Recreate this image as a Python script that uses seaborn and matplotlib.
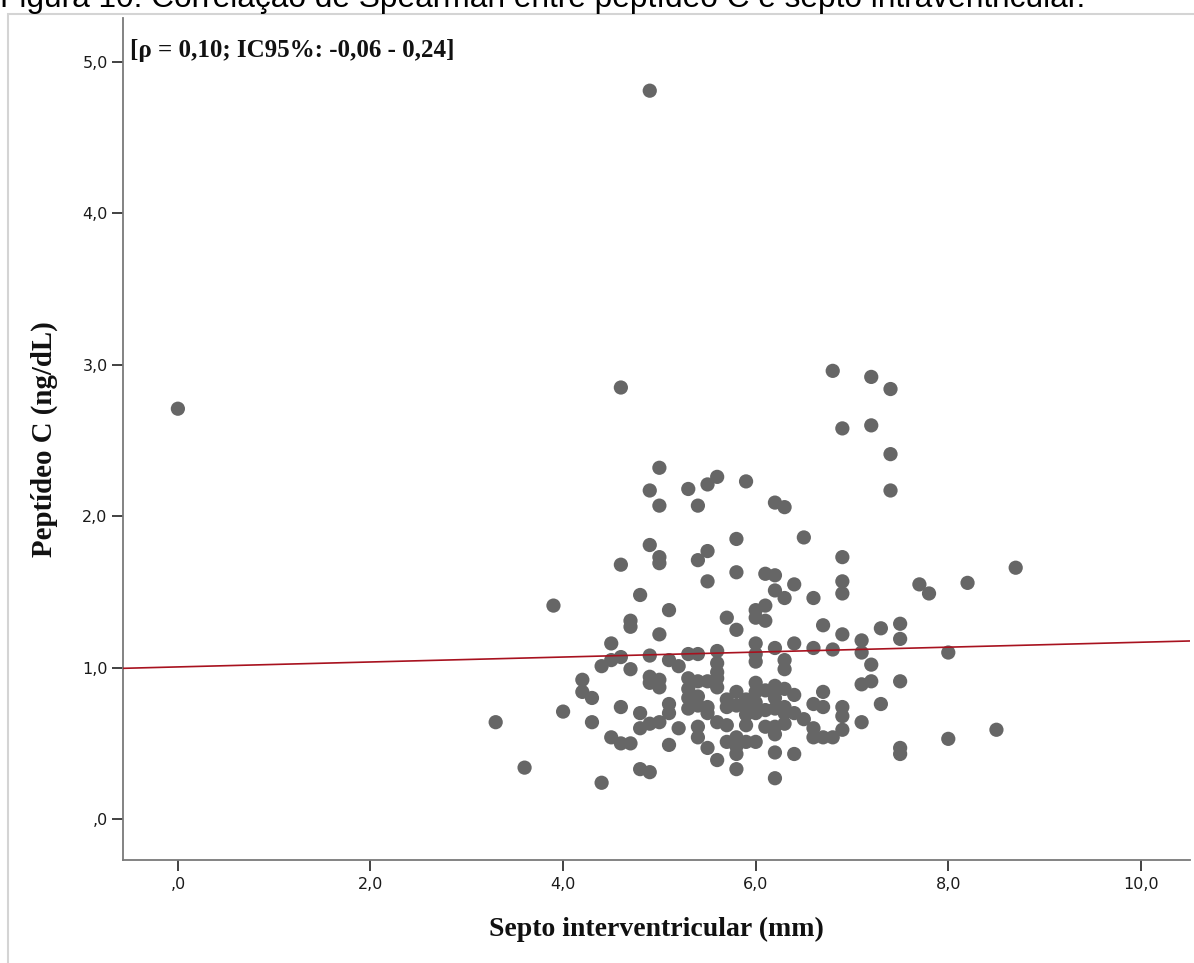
import matplotlib
matplotlib.use("Agg")
import matplotlib.pyplot as plt
import matplotlib.patches as mpatches
from matplotlib.ticker import FixedLocator, FixedFormatter
import seaborn as sns
import pandas as pd

# ---- data ----
septo = (
    [0.0, 3.3, 3.6, 3.9, 4.0, 4.2, 4.2, 4.3, 4.3, 4.4, 4.4]
    + [4.5] * 3 + [4.6] * 5 + [4.7] * 4 + [4.8] * 4 + [4.9] * 8 + [5.0] * 8
    + [5.1] * 5 + [5.2] * 2 + [5.3] * 6 + [5.4] * 8 + [5.5] * 7 + [5.6] * 8
    + [5.7] * 5 + [5.8] * 9 + [5.9] * 6 + [6.0] * 10 + [6.1] * 6 + [6.2] * 11
    + [6.3] * 8 + [6.4] * 5 + [6.5] * 2 + [6.6] * 5 + [6.7] * 4 + [6.8] * 3
    + [6.9] * 8 + [7.1] * 4 + [7.2] * 4 + [7.3] * 2 + [7.4] * 3 + [7.5] * 5
    + [7.7, 7.8, 8.0, 8.0, 8.2, 8.5, 8.7]
)
peptideo = (
    [2.71, 0.64, 0.34, 1.41, 0.71, 0.92, 0.84, 0.80, 0.64, 1.01, 0.24]
    + [1.16, 1.05, 0.54]
    + [2.85, 1.68, 1.07, 0.74, 0.50]
    + [1.31, 1.27, 0.99, 0.50]
    + [1.48, 0.70, 0.60, 0.33]
    + [4.81, 2.17, 1.81, 1.08, 0.94, 0.90, 0.63, 0.31]
    + [2.32, 2.07, 1.73, 1.69, 1.22, 0.92, 0.87, 0.64]
    + [1.38, 1.05, 0.76, 0.70, 0.49]
    + [1.01, 0.60]
    + [2.18, 1.09, 0.93, 0.86, 0.80, 0.73]
    + [2.07, 1.71, 1.09, 0.91, 0.81, 0.75, 0.61, 0.54]
    + [2.21, 1.77, 1.57, 0.91, 0.74, 0.70, 0.47]
    + [2.26, 1.11, 1.03, 0.97, 0.93, 0.87, 0.64, 0.39]
    + [1.33, 0.79, 0.74, 0.62, 0.51]
    + [1.85, 1.63, 1.25, 0.84, 0.75, 0.54, 0.48, 0.43, 0.33]
    + [2.23, 0.79, 0.74, 0.69, 0.62, 0.51]
    + [1.38, 1.33, 1.16, 1.09, 1.04, 0.90, 0.84, 0.77, 0.70, 0.51]
    + [1.62, 1.41, 1.31, 0.85, 0.72, 0.61]
    + [2.09, 1.61, 1.51, 1.13, 0.88, 0.80, 0.73, 0.61, 0.56, 0.44, 0.27]
    + [2.06, 1.46, 1.05, 0.99, 0.86, 0.74, 0.70, 0.63]
    + [1.55, 1.16, 0.82, 0.70, 0.43]
    + [1.86, 0.66]
    + [1.46, 1.13, 0.76, 0.60, 0.54]
    + [1.28, 0.84, 0.74, 0.54]
    + [2.96, 1.12, 0.54]
    + [2.58, 1.73, 1.57, 1.49, 1.22, 0.74, 0.68, 0.59]
    + [1.18, 1.10, 0.89, 0.64]
    + [2.92, 2.60, 1.02, 0.91]
    + [1.26, 0.76]
    + [2.84, 2.41, 2.17]
    + [1.29, 1.19, 0.91, 0.47, 0.43]
    + [1.55, 1.49, 1.10, 0.53, 1.56, 0.59, 1.66]
)
fit_intercept = 1.005
fit_slope = 0.0163

x_ticks = [0, 2, 4, 6, 8, 10]
x_tick_labels = [",0", "2,0", "4,0", "6,0", "8,0", "10,0"]
y_ticks = [0, 1, 2, 3, 4, 5]
y_tick_labels = [",0", "1,0", "2,0", "3,0", "4,0", "5,0"]

title_text = "Figura 10. Correlação de Spearman entre peptídeo C e septo intraventricular."
annot_text = "[ρ = 0,10; IC95%: -0,06 - 0,24]"
x_label = "Septo interventricular (mm)"
y_label = "Peptídeo C (ng/dL)"

df = pd.DataFrame({"septo": septo, "peptideo": peptideo})

sns.set_style("white")
plt.rcParams["font.family"] = ["DejaVu Sans"]

W, H = 1194, 963
fig = plt.figure(figsize=(W / 100, H / 100), dpi=100)
ax = fig.add_axes([123 / W, 1 - 860 / H, (1190 - 123) / W, (860 - 18) / H])

xlim = (-0.57, 10.51)
ylim = (-0.27, 5.29)

sns.scatterplot(data=df, x="septo", y="peptideo", ax=ax, color="#666666",
                s=105, edgecolor="none", linewidth=0, zorder=3, legend=False)

ax.plot(list(xlim), [fit_intercept + fit_slope * xlim[0], fit_intercept + fit_slope * xlim[1]],
        color="#a8121f", lw=1.2, zorder=4)

ax.set_xlim(*xlim)
ax.set_ylim(*ylim)

ax.xaxis.set_major_locator(FixedLocator(x_ticks))
ax.xaxis.set_major_formatter(FixedFormatter(x_tick_labels))
ax.yaxis.set_major_locator(FixedLocator(y_ticks))
ax.yaxis.set_major_formatter(FixedFormatter(y_tick_labels))

for sp in ["top", "right"]:
    ax.spines[sp].set_visible(False)
for sp in ["left", "bottom"]:
    ax.spines[sp].set_color("#7a7a7a")
    ax.spines[sp].set_linewidth(1.3)

ax.tick_params(axis="both", direction="out", length=8, width=1.3, color="#333333",
               labelsize=11.5, labelcolor="#1a1a1a", pad=3,
               left=True, bottom=True)
ax.tick_params(axis="x", pad=4)

ax.set_xlabel(x_label, family="Liberation Serif", fontweight="bold", fontsize=20, color="#111111")
ax.set_ylabel(y_label, family="Liberation Serif", fontweight="bold", fontsize=20.8, color="#111111")
ax.xaxis.set_label_coords(0.5, -0.068)
ax.yaxis.set_label_coords(-0.061, 0.5)

ax.text(0.0066, (860 - 50) / 842, annot_text, transform=ax.transAxes,
        family="Liberation Serif", fontweight="bold", fontsize=18,
        va="center", ha="left", color="#111111")

# outer frame
frame = mpatches.Rectangle((8 / W, -0.02), 1.05, 1 - 14 / H + 0.02, transform=fig.transFigure,
                           fill=False, edgecolor="#d4d4d4", lw=1.5, zorder=0)
fig.add_artist(frame)

# title partially cut off at the top, as in the reference
fig.text(0.0, 1 - 7.5 / H, title_text, family="Liberation Sans", fontsize=22.8,
         va="baseline", ha="left", color="#000000")

fig.savefig("out.png", dpi=100)
